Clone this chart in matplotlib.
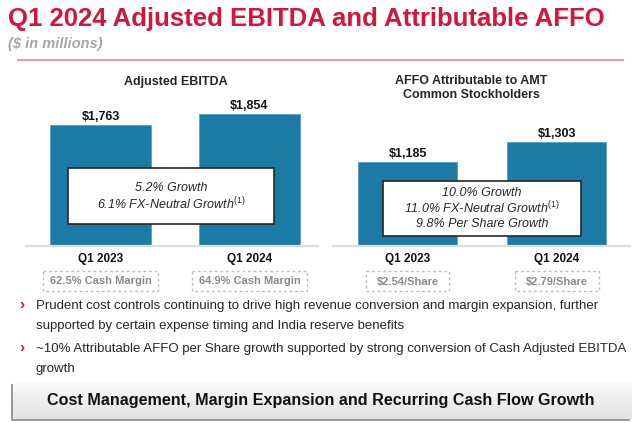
import numpy as np
import matplotlib.pyplot as plt
from matplotlib.patches import Rectangle
from matplotlib.colors import LinearSegmentedColormap

plt.rcParams['font.family'] = ['Liberation Sans', 'DejaVu Sans']
plt.rcParams['mathtext.fontset'] = 'custom'
plt.rcParams['mathtext.rm'] = 'Liberation Sans'
plt.rcParams['mathtext.it'] = 'Liberation Sans:italic'

# data
quarters = ['Q1 2023', 'Q1 2024']
ebitda = [1763, 1854]
affo = [1185, 1303]
cash_margin = ['62.5% Cash Margin', '64.9% Cash Margin']
per_share = ['$2.54/Share', '$2.79/Share']
ebitda_growth = ['5.2% Growth', r'6.1% FX-Neutral Growth$^{\mathrm{(1)}}$']
affo_growth = ['10.0% Growth', r'11.0% FX-Neutral Growth$^{\mathrm{(1)}}$',
               '9.8% Per Share Growth']
bullets = [['Prudent cost controls continuing to drive high revenue conversion and margin expansion, further',
            'supported by certain expense timing and India reserve benefits'],
           ['~10% Attributable AFFO per Share growth supported by strong conversion of Cash Adjusted EBITDA',
            'growth']]

title = 'Q1 2024 Adjusted EBITDA and Attributable AFFO'
banner = 'Cost Management, Margin Expansion and Recurring Cash Flow Growth'

W, H = 640, 423
RED = '#d4163c'
BLUE = '#1b7ba4'
DARK = '#262626'

fig = plt.figure(figsize=(W / 100, H / 100), dpi=100)


def rect(x0, x1, y_top, y_bot):
    return [x0 / W, 1 - y_bot / H, (x1 - x0) / W, (y_bot - y_top) / H]


def bar_panel(pos, vals, xlim, ylim, width):
    ax = fig.add_axes(pos)
    x = np.arange(len(vals))
    ax.bar(x, vals, width=width, color=BLUE, edgecolor='#5a9fc2', linewidth=0.6)
    for i, v in enumerate(vals):
        ax.annotate(f'${v:,}', (i, v), xytext=(0, 1.5), textcoords='offset points',
                    ha='center', va='bottom', fontsize=9, fontweight='bold', color='#111111')
    ax.set_xlim(*xlim)
    ax.set_ylim(*ylim)
    ax.set_xticks(x, quarters, fontsize=8.5, fontweight='bold', color='#111111')
    ax.set_yticks([])
    ax.tick_params(axis='x', length=0, pad=5)
    for s in ['top', 'left', 'right']:
        ax.spines[s].set_visible(False)
    ax.spines['bottom'].set_color('#dcdcdc')
    ax.spines['bottom'].set_linewidth(1.6)
    ax.patch.set_alpha(0)
    return ax


ax1 = bar_panel(rect(26, 318, 100, 246), ebitda, (-0.5, 1.46), (762, 1970), 0.68)
ax2 = bar_panel(rect(333, 630, 100, 246), affo, (-0.5, 1.49), (689, 1551), 0.665)

# overlay in pixel coordinates
ov = fig.add_axes([0, 0, 1, 1], zorder=10)
ov.set_xlim(0, W)
ov.set_ylim(H, 0)
ov.axis('off')
ov.patch.set_alpha(0)

ov.text(8, 19, title, color=RED, fontsize=18.5, fontweight='bold', va='center')
ov.text(8, 44, '($ in millions)', color='#a6a6a6', fontsize=10.5, fontweight='bold',
        style='italic', va='center')
ov.plot([18, 623], [60, 60], color='#f29aae', lw=1.5)

ov.text(175.5, 82, 'Adjusted EBITDA', ha='center', va='center', fontsize=9,
        fontweight='bold', color=DARK)
ov.text(471, 88, 'AFFO Attributable to AMT\nCommon Stockholders', ha='center', va='center',
        fontsize=9, fontweight='bold', color=DARK, linespacing=1.15)

# growth boxes
ov.add_patch(Rectangle((68, 168), 206, 56, facecolor='white', edgecolor=DARK, lw=1.2))
for j, t in enumerate(ebitda_growth):
    ov.text(171, 188 + 16 * j, t, ha='center', va='center', fontsize=9, style='italic', color=DARK)
ov.add_patch(Rectangle((383, 181), 198, 55, facecolor='white', edgecolor=DARK, lw=1.2))
for j, t in enumerate(affo_growth):
    ov.text(482, 193 + 15.5 * j, t, ha='center', va='center', fontsize=9, style='italic', color=DARK)

# dashed boxes under bars
fig.canvas.draw()
for ax, labels, widths in [(ax1, cash_margin, [115, 115]), (ax2, per_share, [83, 84])]:
    for i, (lab, w) in enumerate(zip(labels, widths)):
        cx = ax.transData.transform((i, ax.get_ylim()[0]))[0]
        ov.add_patch(Rectangle((cx - w / 2, 271), w, 20, fill=False, edgecolor='#bdbdbd',
                               lw=1, ls=(0, (2, 2))))
        ov.text(cx, 281.5, lab, ha='center', va='center', fontsize=8, fontweight='bold',
                color='#8a8a8a')

# bullets
for lines, y in zip(bullets, [306, 349]):
    ov.text(22, y - 1, '\u203a', color=RED, fontsize=11, fontweight='bold', ha='center', va='center')
    for j, line in enumerate(lines):
        ov.text(36, y + 20 * j, line, fontsize=9.5, color=DARK, va='center')

# banner
ov.add_patch(Rectangle((11, 384.5), 619, 37, facecolor='#9a9a9a', edgecolor='none'))
grad = np.linspace(0, 1, 50).reshape(-1, 1)
ov.imshow(grad, cmap=LinearSegmentedColormap.from_list('g', ['#fbfbfb', '#e2e2e2']),
          extent=(13, 632, 419.5, 382.5), aspect='auto', zorder=2)
ov.set_xlim(0, W)
ov.set_ylim(H, 0)
ov.text(321, 401, banner, ha='center', va='center', fontsize=11.6, fontweight='bold',
        color='#111111', zorder=3)

fig.savefig('out.png', dpi=100)
